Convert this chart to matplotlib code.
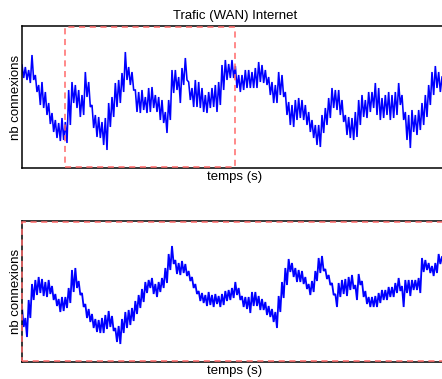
import numpy as np
import matplotlib
matplotlib.use("Agg")
import matplotlib.pyplot as plt
from matplotlib.patches import Rectangle

plt.rcParams['font.family'] = ['Liberation Sans', 'DejaVu Sans']

# Whole capture: upper / lower envelope of the connection count per time step
wan_high = [103, 101, 98, 113, 93, 83, 86, 76, 65, 55, 48, 45, 50, 46, 78, 86, 83, 78, 73, 96, 86, 63,
            53, 51, 46, 50, 65, 71, 85, 88, 95, 116, 101, 96, 78, 76, 78, 71, 80, 81, 73, 71,
            68, 56, 68, 98, 98, 91, 100, 110, 86, 80, 88, 86, 80, 73, 76, 80, 83, 86, 103, 108, 104,
            108, 102, 93, 93, 98, 98, 96, 100, 106, 103, 98, 91, 86, 83, 96, 93, 76, 66, 63, 68, 70,
            68, 63, 56, 48, 43, 43, 53, 60, 70, 80, 78, 78, 68, 53, 51, 50, 56, 68, 73, 68, 76,
            76, 85, 80, 70, 73, 76, 73, 76, 85, 73, 56, 53, 58, 53, 58, 65, 73, 83, 96, 102, 96, 91]
wan_low = [90, 88, 85, 88, 76, 63, 60, 53, 44, 36, 30, 27, 28, 25, 43, 65, 60, 51, 53, 71, 61, 40,
           31, 30, 23, 18, 41, 51, 61, 65, 76, 88, 83, 78, 56, 55, 58, 55, 56, 60, 56, 48,
           45, 35, 48, 75, 78, 65, 83, 88, 68, 61, 61, 60, 56, 55, 60, 61, 56, 63, 78, 88, 90,
           90, 80, 76, 78, 80, 80, 80, 80, 86, 85, 83, 73, 65, 65, 73, 71, 53, 43, 41, 48, 50,
           48, 43, 36, 30, 23, 21, 35, 43, 50, 60, 58, 53, 46, 33, 30, 28, 31, 43, 51, 50, 56,
           60, 53, 48, 50, 53, 48, 50, 53, 63, 48, 28, 20, 36, 33, 38, 43, 51, 63, 73, 80, 76, 68]

# Zoomed window of the capture (dashed frame above)
zoom_high = [55, 44, 62, 78, 82, 85, 83, 80, 82, 76, 68, 63, 65, 65, 74, 92, 94, 81, 69, 58, 53, 48,
             43, 42, 44, 47, 51, 46, 34, 36, 43, 50, 52, 54, 61, 67, 73, 80, 82, 84, 78, 80, 84,
             94, 108, 116, 102, 99, 101, 98, 91, 85, 78, 71, 69, 67, 70, 67, 68, 66, 68, 71, 72,
             74, 80, 74, 66, 65, 65, 70, 70, 66, 63, 60, 56, 53, 50, 66, 80, 94, 103, 99, 94,
             92, 91, 85, 78, 81, 91, 104, 106, 93, 87, 79, 68, 79, 82, 83, 85, 87, 77, 88, 81,
             71, 65, 65, 66, 69, 72, 72, 75, 75, 79, 84, 76, 82, 82, 82, 82, 84, 104, 102, 99,
             96, 99, 108, 105]
zoom_low = [35, 25, 44, 62, 67, 69, 66, 65, 68, 62, 56, 50, 51, 54, 59, 70, 74, 67, 55, 44, 40, 34,
            30, 29, 29, 33, 35, 31, 20, 18, 29, 34, 37, 41, 48, 54, 60, 69, 74, 68, 65, 70, 74,
            79, 92, 98, 88, 87, 89, 86, 81, 74, 68, 61, 59, 56, 57, 55, 58, 55, 57, 61, 62,
            64, 67, 62, 55, 53, 49, 56, 56, 52, 52, 47, 45, 40, 34, 50, 64, 77, 90, 85, 80,
            80, 78, 73, 67, 70, 81, 89, 91, 83, 77, 67, 55, 65, 68, 66, 72, 73, 62, 77, 65,
            58, 55, 55, 55, 59, 62, 62, 65, 65, 69, 71, 55, 69, 66, 72, 72, 69, 90, 92, 89,
            86, 89, 98, 99]

t_start, t_end = 0.0, 420.0        # capture duration (s)
win_start, win_end = 43.0, 213.0   # zoom window (s)
win_last = 210.6                   # last sample shown in the zoom
y_top = 142.0


def envelope_trace(t0, t1, high, low):
    n = len(high)
    t = np.linspace(t0, t1, n)
    dt = (t1 - t0) / (n - 1)
    ts = np.empty(2 * n)
    vs = np.empty(2 * n)
    ts[0::2] = t
    ts[1::2] = t + dt / 2
    vs[0::2] = high
    vs[1::2] = low
    return ts[:-1], vs[:-1]


W, H = 442, 379
fig = plt.figure(figsize=(W / 100, H / 100), dpi=100)
ax1 = fig.add_axes([22 / W, (H - 168) / H, 426 / W, 142 / H])
ax2 = fig.add_axes([22 / W, (H - 362) / H, 426 / W, 141 / H])

dash_color = '#ff6a6a'
blue = '#0000ff'

ts, vs = envelope_trace(t_start, t_end, wan_high, wan_low)
ax1.plot(ts, vs, color=blue, lw=1.15, solid_joinstyle='miter')
ax1.set_xlim(t_start, t_end + 6)
ax1.set_ylim(0, y_top)
ax1.add_patch(Rectangle((win_start, 1.2), win_end - win_start, y_top - 2.4,
                        fill=False, edgecolor=dash_color, lw=1.1,
                        linestyle=(0, (4, 3)), zorder=3))
ax1.set_title('Trafic (WAN) Internet', fontsize=9.5, pad=5)

ts2, vs2 = envelope_trace(win_start, win_last, zoom_high, zoom_low)
ax2.plot(ts2, vs2, color=blue, lw=1.3, solid_joinstyle='miter')
ax2.set_xlim(win_start, win_end)
ax2.set_ylim(0, 141)
ax2.add_patch(Rectangle((win_start, 0.8), win_end - win_start, 141 - 1.6,
                        fill=False, edgecolor=dash_color, lw=1.1,
                        linestyle=(0, (4, 3)), zorder=3, clip_on=False))

for ax in (ax1, ax2):
    ax.set_xticks([])
    ax.set_yticks([])
    for sp in ax.spines.values():
        sp.set_linewidth(1.1)
    ax.set_xlabel('temps (s)', fontsize=9.5)
    ax.set_ylabel('nb connexions', fontsize=9.5)
    ax.xaxis.set_label_coords(213 / 426, -0.02)
    ax.yaxis.set_label_coords(0.0, 0.5)

fig.savefig('out.png', dpi=100)
